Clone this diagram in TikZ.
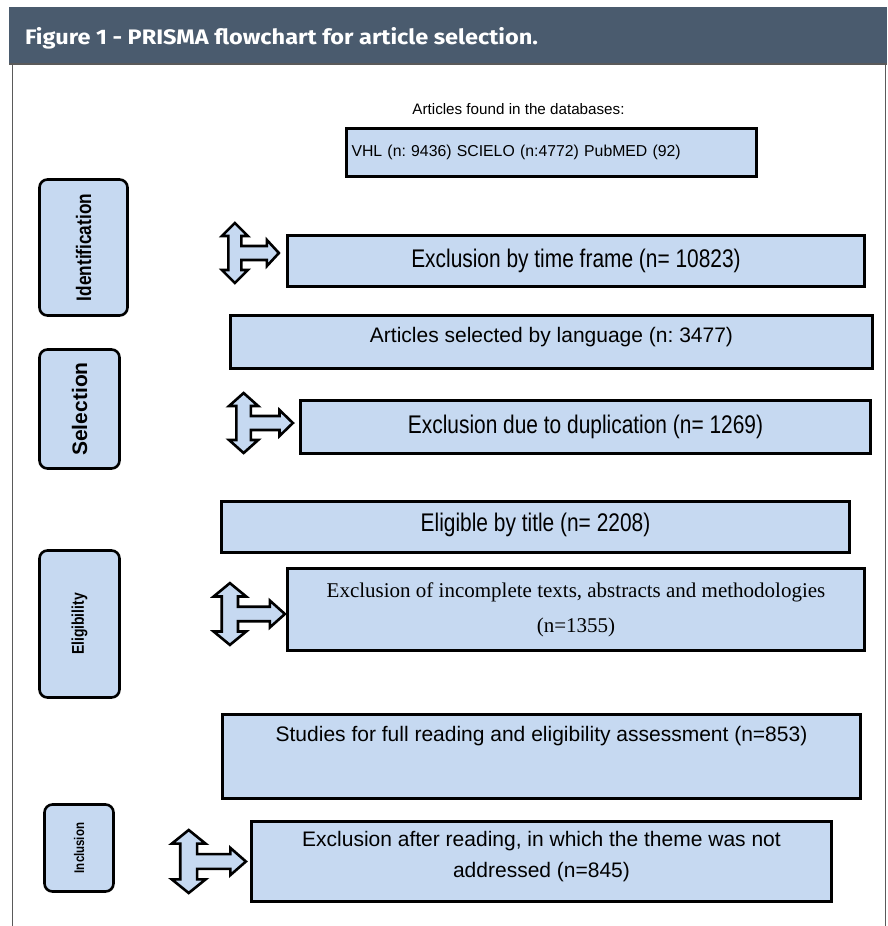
\documentclass[tikz,border=0pt]{standalone}
\usepackage{fontspec}
\setmainfont{Liberation Sans}
\newfontfamily\narrowfont[FakeStretch=0.82]{Liberation Sans}
\newfontfamily\seriffont{Liberation Serif}
\newfontfamily\titlefont[FakeStretch=1.12]{Fira Sans}
\usepackage{tikz}
\usetikzlibrary{positioning}
\definecolor{boxblue}{HTML}{C6D9F1}
\definecolor{headerslate}{HTML}{4A5B6E}
\definecolor{framegray}{HTML}{5A5A5A}
\tikzset{
	splitarrow/.pic = {
		\draw[line width=2.6pt, line join=miter, fill=boxblue]
			(-44,-30) -- (-31,-17) -- (-37.5,-17) -- (-37.5,-7) -- (-12,-7)
			-- (-12,-13) -- (0,0) -- (-12,13) -- (-12,7) -- (-37.5,7)
			-- (-37.5,17) -- (-31,17) -- (-44,30) -- (-57,17) -- (-50.5,17)
			-- (-50.5,-17) -- (-57,-17) -- cycle;
	}
}

\begin{document}
\frenchspacing
\begin{tikzpicture}[
				x=1pt, y=-1pt,
				stage/.style = {
					draw, line width=2.6pt,
					rounded corners=8pt,
					fill=boxblue, rotate=90,
					inner sep=0pt
				},
				stepbox/.style = {
					draw, line width=3.2pt,
					fill=boxblue,
					inner sep=0pt, align=center
				},
				plain/.style = {font=\fontsize{21}{31}\selectfont},
				narrow/.style = {font=\narrowfont\fontsize{25.5}{30}\selectfont}
			]
				\useasboundingbox (0,0) rectangle (887,926);
				% header and frame
				\fill[headerslate] (9,7) rectangle (887,64);
				\draw[framegray, line width=1.2pt] (9,64) -- (887,64);
				\draw[framegray, line width=1pt] (12.7,64) -- (12.7,926);
				\draw[framegray, line width=1pt] (885.5,64) -- (885.5,926);
				\node[anchor=base west, inner sep=0pt, text=white,
					font=\titlefont\bfseries\fontsize{21}{24}\selectfont] (heading) at (25,44)
					{Figure 1 - PRISMA flowchart for article selection.};
				% stages
				\node[stage, minimum width=136pt, minimum height=88pt,
					font=\narrowfont\bfseries\fontsize{21}{24}\selectfont] (ident) at (83.5,247.5) {Identification};
				\node[stage, minimum width=119pt, minimum height=80pt,
					font=\bfseries\fontsize{21}{24}\selectfont] (select) at (79.5,409) {Selection};
				\node[stage, minimum width=147pt, minimum height=80pt,
					font=\narrowfont\bfseries\fontsize{17}{20}\selectfont] (elig) at (79.5,624) {Eligibility};
				\node[stage, minimum width=87pt, minimum height=69pt,
					font=\narrowfont\bfseries\fontsize{14}{16}\selectfont] (incl) at (79,848) {Inclusion};
				% flow boxes
				\node[stepbox, minimum width=410pt, minimum height=48pt,
					text width=400pt, align=left, inner xsep=5pt,
					font=\fontsize{15.8}{18}\selectfont] (found) at (551.5,152.5)
					{VHL (n: 9436) SCIELO (n:4772) PubMED (92)};
				\node[above=9pt of found, xshift=-33pt,
					font=\fontsize{15.2}{17}\selectfont] (foundlabel)
					{Articles found in the databases:};
				\node[stepbox, narrow, minimum width=577pt, minimum height=51pt] (timeframe)
					at (576,261) {Exclusion by time frame (n= 10823)};
				\node[stepbox, plain, minimum width=642pt,
					text height=26.7pt, text depth=26.3pt] (language)
					at (551.5,342) {Articles selected by language (n: 3477)};
				\node[stepbox, narrow, minimum width=570pt, minimum height=53pt] (duplic)
					at (585.5,427) {Exclusion due to duplication (n= 1269)};
				\node[stepbox, narrow, minimum width=628pt,
					text height=29.5pt, text depth=21.5pt] (bytitle)
					at (535.5,527) {Eligible by title (n= 2208)};
				\node[stepbox, minimum width=577pt, minimum height=82pt,
					font=\seriffont\fontsize{21}{35}\selectfont] (incomplete)
					at (576,609.5) {Exclusion of incomplete texts, abstracts and methodologies\\(n=1355)};
				\node[stepbox, plain, minimum width=638pt,
					text height=27pt, text depth=57pt] (fullread)
					at (541.5,756.5) {Studies for full reading and eligibility assessment (n=853)};
				\node[stepbox, plain, minimum width=580pt,
					inner ysep=10pt, text depth=14pt] (theme)
					at (541.5,861.5) {Exclusion after reading, in which the theme was not\\addressed (n=845)};
				% exclusion arrows
				\pic at ([xshift=-7pt, yshift=8pt]timeframe.west) {splitarrow};
				\pic[xscale=1.12] at ([xshift=-6pt, yshift=4pt]duplic.west) {splitarrow};
				\pic[xscale=1.25, yscale=1.03] at ([xshift=-1pt, yshift=-4.5pt]incomplete.west) {splitarrow};
				\pic[xscale=1.3, yscale=1.05] at ([xshift=-4pt]theme.west) {splitarrow};
			\end{tikzpicture}
\end{document}
